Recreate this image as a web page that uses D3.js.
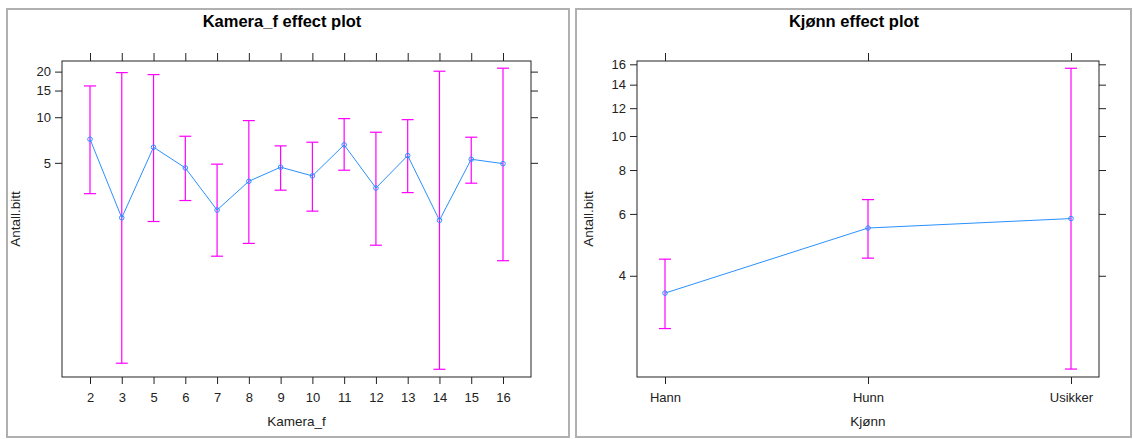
<!DOCTYPE html>
<meta charset="utf-8">
<style>
body { margin: 0; background: #fff; font-family: 'Liberation Sans', Arial, sans-serif; }
.frame { fill: #fff; stroke: #b0b0b0; stroke-width: 2px; }
.box { fill: none; stroke: #222; stroke-width: 1px; }
.axis path { display: none; }
.axis line { stroke: #222; }
.axis text { fill: #222; font-size: 13px; font-family: 'Liberation Sans', Arial, sans-serif; }
.title { font-size: 16.5px; font-weight: bold; fill: #000; text-anchor: middle; }
.lab { font-size: 13.5px; fill: #222; text-anchor: middle; }
.ci { stroke: #ff00ff; stroke-width: 1.2px; fill: none; }
.fit { stroke: #2a90ff; stroke-width: 1px; fill: none; }
.dot { stroke: #2a90ff; fill: none; stroke-width: 1px; }
</style>
<body>
<svg width="1133" height="439"></svg>
<script src="https://d3js.org/d3.v7.min.js"></script>
<script>
// Kamera_f panel
var kameraCats = ["2","3","5","6","7","8","9","10","11","12","13","14","15","16"];
var kameraFit   = [7.16, 2.17, 6.34, 4.63, 2.44, 3.78, 4.68, 4.10, 6.57, 3.41, 5.58, 2.09, 5.28, 4.94];
var kameraLower = [3.13, 0.238, 2.05, 2.82, 1.21, 1.47, 3.30, 2.40, 4.47, 1.43, 3.18, 0.217, 3.67, 1.13];
var kameraUpper = [16.09, 19.70, 19.11, 7.49, 4.90, 9.50, 6.47, 6.84, 9.79, 7.96, 9.64, 20.12, 7.38, 21.06];
var kameraYTicks = [5, 10, 15, 20];

// Kjønn panel
var kjonnCats  = ["Hann", "Hunn", "Usikker"];
var kjonnFit   = [3.57, 5.47, 5.82];
var kjonnLower = [2.83, 4.49, 2.17];
var kjonnUpper = [4.46, 6.59, 15.59];
var kjonnYTicks = [4, 6, 8, 10, 12, 14, 16];

var svg = d3.select("svg");

function panel(o) {
  svg.append("rect").attr("class", "frame")
    .attr("x", o.frame[0]).attr("y", 9)
    .attr("width", o.frame[1] - o.frame[0]).attr("height", 428);

  var w = o.box[1] - o.box[0], h = 377 - 61;
  var g = svg.append("g").attr("transform", "translate(" + o.box[0] + ",61)");

  var x = d3.scalePoint().domain(o.cats).range([28, w - 28]);
  var y = d3.scaleLog().domain(o.ydom).range([h, 0]);

  g.append("g").attr("class", "axis").attr("transform", "translate(0," + h + ")")
    .call(d3.axisBottom(x).tickSize(7).tickPadding(9));
  g.append("g").attr("class", "axis")
    .call(d3.axisTop(x).tickSize(8).tickFormat(""));
  g.append("g").attr("class", "axis")
    .call(d3.axisLeft(y).tickValues(o.yticks).tickSize(7).tickPadding(4).tickFormat(d3.format("d")));
  g.append("g").attr("class", "axis").attr("transform", "translate(" + w + ",0)")
    .call(d3.axisRight(y).tickValues(o.yticks).tickSize(7).tickFormat(""));

  g.append("rect").attr("class", "box").attr("width", w).attr("height", h);

  var rows = o.cats.map(function(c, i) {
    return {cat: c, fit: o.fit[i], lo: o.lo[i], hi: o.hi[i]};
  });

  var ci = g.selectAll(".cig").data(rows).enter().append("g");
  ci.append("line").attr("class", "ci")
    .attr("x1", function(d) { return x(d.cat); }).attr("x2", function(d) { return x(d.cat); })
    .attr("y1", function(d) { return y(d.lo); }).attr("y2", function(d) { return y(d.hi); });
  ["lo", "hi"].forEach(function(k) {
    ci.append("line").attr("class", "ci")
      .attr("x1", function(d) { return x(d.cat) - 6; }).attr("x2", function(d) { return x(d.cat) + 6; })
      .attr("y1", function(d) { return y(d[k]); }).attr("y2", function(d) { return y(d[k]); });
  });

  g.append("path").datum(rows).attr("class", "fit")
    .attr("d", d3.line().x(function(d) { return x(d.cat); }).y(function(d) { return y(d.fit); }));
  g.selectAll(".dot").data(rows).enter().append("circle").attr("class", "dot")
    .attr("r", 2.3)
    .attr("cx", function(d) { return x(d.cat); })
    .attr("cy", function(d) { return y(d.fit); });

  svg.append("text").attr("class", "title").attr("x", o.titleX).attr("y", 27).text(o.title);
  svg.append("text").attr("class", "lab").attr("x", o.box[0] + w / 2).attr("y", 426).text(o.xlab);
  svg.append("text").attr("class", "lab")
    .attr("transform", "translate(" + o.ylabX + ",219) rotate(-90)").text("Antall.bitt");
}

panel({
  frame: [7, 569], box: [62, 531], cats: kameraCats,
  fit: kameraFit, lo: kameraLower, hi: kameraUpper,
  ydom: [0.193, 23.5], yticks: kameraYTicks,
  title: "Kamera_f effect plot", titleX: 282, xlab: "Kamera_f", ylabX: 20
});
panel({
  frame: [576, 1131], box: [637, 1099], cats: kjonnCats,
  fit: kjonnFit, lo: kjonnLower, hi: kjonnUpper,
  ydom: [2.06, 16.35], yticks: kjonnYTicks,
  title: "Kjønn effect plot", titleX: 854, xlab: "Kjønn", ylabX: 593
});
</script>
</body>
